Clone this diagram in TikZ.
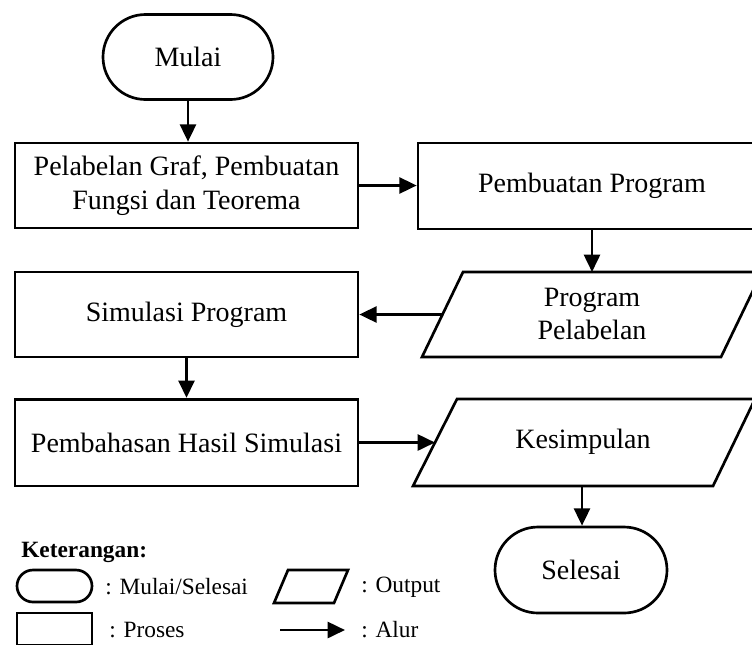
\documentclass[tikz,border=0pt]{standalone}
\usepackage{fontspec}
\setmainfont{Liberation Serif}
\usetikzlibrary{shapes.misc,arrows.meta}
\begin{document}
\begin{tikzpicture}[x=0.75pt,y=-0.75pt,
  line width=2pt,
  mainfont/.style={font=\fontsize{21}{25}\selectfont},
  legfont/.style={font=\fontsize{17.5}{20}\selectfont},
  procbox/.style={draw, rectangle, align=center, inner sep=0pt, mainfont},
  termbox/.style={draw, rounded rectangle, align=center, inner sep=0pt, mainfont},
  txt/.style={align=center, inner sep=0pt, mainfont},
  lbl/.style={anchor=west, inner sep=0pt, legfont},
  arr/.style={-{Triangle[length=13pt,width=12pt]}, line width=2pt}
]
\useasboundingbox (0,0) rectangle (752,644);
\clip (0,0) rectangle (752,644);

% Start / end
\node[termbox, minimum width=127.5pt, minimum height=63.75pt] (mulai) at (188,57) {Mulai};
\node[termbox, minimum width=129pt, minimum height=64.5pt] (selesai) at (581,570) {Selesai};

% Process boxes
\node[procbox, minimum width=257.25pt, minimum height=63.75pt] (b1) at (186.5,185.5) {Pelabelan Graf, Pembuatan\\Fungsi dan Teorema};
\node[procbox, minimum width=261pt, minimum height=64.5pt] (b2) at (592,186) {Pembuatan Program};
\node[procbox, minimum width=257.25pt, minimum height=63.75pt] (b3) at (186.5,314.5) {Simulasi Program};
\node[procbox, minimum width=257.25pt, minimum height=65pt] (b4) at (186.5,442.5) {Pembahasan Hasil Simulasi};

% Output parallelograms
\draw (463,272) -- (762,272) -- (721,357) -- (422,357) -- cycle;
\coordinate (p1top) at (592,272);
\coordinate (p1left) at (442.5,314.5);
\node[txt] (p1) at (592,314) {Program\\Pelabelan};

\draw (457,399) -- (755,399) -- (713,486) -- (413,486) -- cycle;
\coordinate (p2left) at (435,442.5);
\coordinate (p2bot) at (582,486);
\node[txt] (p2) at (583,442) {Kesimpulan};

% Flow
\draw[arr] (mulai.south) -- (mulai.south |- b1.north);
\draw[arr] (b1.east) -- (b1.east -| b2.west);
\draw[arr] (b2.south) -- (p1top);
\draw[arr] (p1left) -- (p1left -| b3.east);
\draw[arr] (b3.south) -- (b4.north);
\draw[arr] (b4.east |- p2left) -- (p2left);
\draw[arr] (p2bot) -- (p2bot |- selesai.north);

% Legend
\node[anchor=west, inner sep=0pt, font=\fontsize{17.5}{20}\selectfont\bfseries] (ket) at (20,552) {Keterangan:};
\node[draw, rounded rectangle, minimum width=56.25pt, minimum height=24pt, inner sep=0pt] (lterm) at (54.5,586) {};
\node[lbl] (lterml) at (104,587) {: Mulai/Selesai};
\draw (288,570) -- (348,570) -- (334,603) -- (274,603) -- cycle;
\node[lbl] (loutl) at (360,587) {: Output};
\node[draw, rectangle, minimum width=56.25pt, minimum height=24pt, inner sep=0pt] (lproc) at (54.5,629) {};
\node[lbl] (lprocl) at (108,630) {: Proses};
\coordinate (la1) at (280,630);
\coordinate (la2) at (345,630);
\draw[arr] (la1) -- (la2);
\node[lbl] (lalur) at (360,630) {: Alur};
\end{tikzpicture}
\end{document}
